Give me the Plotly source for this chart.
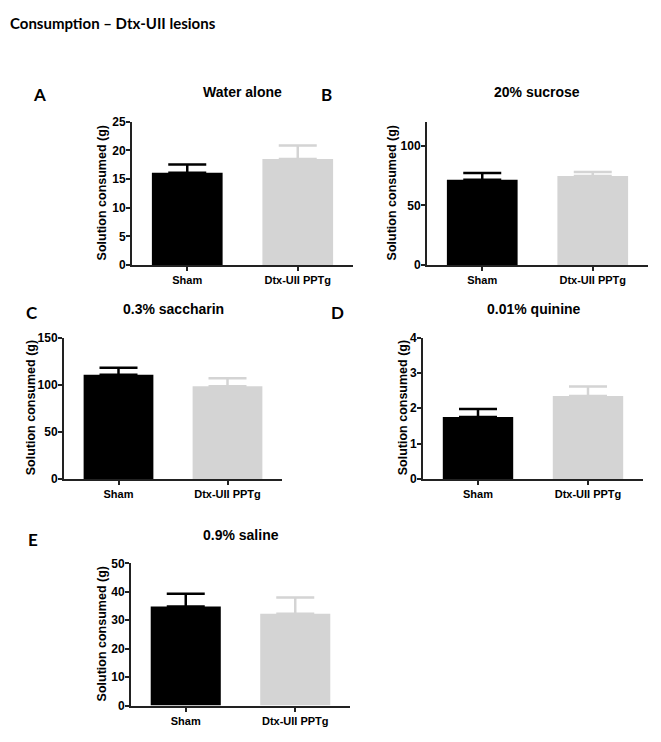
import plotly.graph_objects as go

W, H = 661, 742

categories = ["Sham", "Dtx-UII PPTg"]
panel_letters = ["A", "B", "C", "D", "E"]
panel_titles = ["Water alone", "20% sucrose", "0.3% saccharin", "0.01% quinine", "0.9% saline"]
sham_means = [16.1, 71.5, 110.5, 1.75, 34.8]
sham_err = [1.45, 5.5, 7.5, 0.23, 4.5]
dtx_means = [18.5, 74.5, 98.5, 2.35, 32.3]
dtx_err = [2.35, 3.5, 8.5, 0.27, 5.7]
y_max = [25, 120, 150, 4, 50]
y_dtick = [5, 50, 50, 1, 10]
y_title = "Solution consumed (g)"
page_title = "Consumption \u2013 Dtx-UII lesions"

# layout (pixel boxes: left, right, top, bottom)
boxes = [
    (132, 353, 117, 263),
    (427, 648, 117, 263),
    (64, 282, 337, 481),
    (423, 643, 337, 481),
    (131, 350, 567, 712),
]

def px(x):
    return x / W

def py(y):
    return 1 - y / H

BLACK = "#000000"
GREY = "#d4d4d4"
AX = "#222222"
ARIAL = "Liberation Sans"
CAL = "Lato"

fig = go.Figure()
annotations = []

for i, (x0, x1, yt, yb) in enumerate(boxes):
    n = i + 1
    xa = "x" if n == 1 else f"x{n}"
    ya = "y" if n == 1 else f"y{n}"
    fig.add_trace(go.Bar(
        x=[categories[0]], y=[sham_means[i]], xaxis=xa, yaxis=ya,
        width=0.64, marker=dict(color=BLACK, line=dict(width=0)),
        error_y=dict(type="data", array=[sham_err[i]], arrayminus=[0], symmetric=False,
                     color=BLACK, thickness=2.5, width=19),
        showlegend=False,
    ))
    fig.add_trace(go.Bar(
        x=[categories[1]], y=[dtx_means[i]], xaxis=xa, yaxis=ya,
        width=0.64, marker=dict(color=GREY, line=dict(width=0)),
        error_y=dict(type="data", array=[dtx_err[i]], arrayminus=[0], symmetric=False,
                     color=GREY, thickness=2.5, width=19),
        showlegend=False,
    ))
    xkey = "xaxis" if n == 1 else f"xaxis{n}"
    ykey = "yaxis" if n == 1 else f"yaxis{n}"
    fig.update_layout(**{
        xkey: dict(domain=[px(x0), px(x1)], anchor=ya, range=[-0.5, 1.5],
                   categoryorder="array", categoryarray=categories,
                   showline=True, linecolor=AX, linewidth=2, ticks="outside",
                   ticklen=4, tickwidth=1.5, tickcolor=AX, showgrid=False,
                   zeroline=False, fixedrange=True,
                   tickfont=dict(family=ARIAL, size=11, color=BLACK, weight="bold")),
        ykey: dict(domain=[py(yb), py(yt)], anchor=xa, range=[0, y_max[i]],
                   dtick=y_dtick[i], tick0=0,
                   showline=True, linecolor=AX, linewidth=2, ticks="outside",
                   ticklen=4, tickwidth=1.5, tickcolor=AX, showgrid=False,
                   zeroline=False, fixedrange=True, ticklabelstandoff=-2,
                   tickfont=dict(family=ARIAL, size=12, color=BLACK, weight="bold")),
    })

# subplot titles
title_pos = [(242, 87), (537, 87), (173, 308), (534, 308), (241, 538)]
for (tx, ty), t in zip(title_pos, panel_titles):
    annotations.append(dict(text=t, x=px(tx), y=py(ty), xref="paper", yref="paper",
                            showarrow=False, xanchor="center", yanchor="middle",
                            font=dict(family=ARIAL, size=14, color=BLACK, weight="bold")))

# panel letters
letter_pos = [(39, 89), (326, 89), (32, 311), (337, 311), (33, 543)]
for (lx, ly), t in zip(letter_pos, panel_letters):
    annotations.append(dict(text=t, x=px(lx), y=py(ly), xref="paper", yref="paper",
                            showarrow=False, xanchor="center", yanchor="middle",
                            font=dict(family=CAL, size=17, color=BLACK, weight="bold")))

# y axis titles
ytitle_x = [102, 392, 31, 403, 102]
for i, (x0, x1, yt, yb) in enumerate(boxes):
    annotations.append(dict(text=y_title, x=px(ytitle_x[i]), y=py((yt + yb) / 2),
                            xref="paper", yref="paper", textangle=-90,
                            showarrow=False, xanchor="center", yanchor="middle",
                            font=dict(family=ARIAL, size=12.5, color=BLACK, weight="bold")))

# page title
annotations.append(dict(text=page_title, x=px(8), y=py(16), xref="paper", yref="paper",
                        showarrow=False, xanchor="left", yanchor="middle",
                        font=dict(family=CAL, size=15, color=BLACK, weight="bold")))

fig.update_layout(
    width=W, height=H, margin=dict(l=0, r=0, t=0, b=0),
    paper_bgcolor="white", plot_bgcolor="white",
    barmode="overlay", annotations=annotations, showlegend=False,
)

fig.write_html("out.html", config={"displayModeBar": False},
               post_script="document.body.style.margin='0';document.body.style.padding='0';")
